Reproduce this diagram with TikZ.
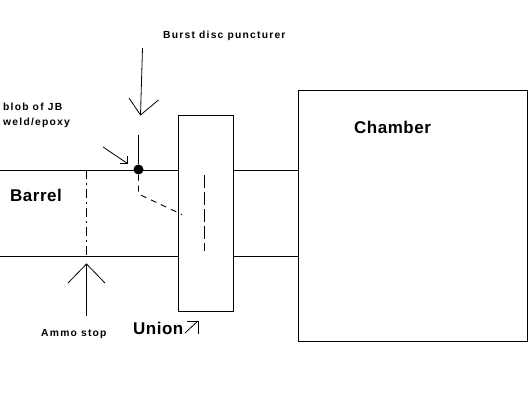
\documentclass[tikz,border=0pt]{standalone}
\usepackage{fontspec}
\setmainfont{Liberation Sans}
\newfontfamily\smallspaced[LetterSpace=12]{Liberation Sans}
\newfontfamily\bigspaced[LetterSpace=3]{Liberation Sans}
\tikzset{
  ln/.style={draw=black,line width=1pt},
  thinln/.style={draw=black,line width=0.8pt},
  dashln/.style={draw=black,line width=0.9pt,dash pattern=on 7pt off 4pt},
  biglabel/.style={inner sep=0pt,anchor=base west,font=\bigspaced\bfseries\fontsize{17}{19}\selectfont},
  smalllabel/.style={inner sep=0pt,anchor=base west,font=\smallspaced\bfseries\fontsize{10.3}{12}\selectfont},
  box/.style={ln,fill=white,inner sep=0pt,outer sep=0pt,rectangle}
}
\begin{document}
\begin{tikzpicture}[x=1pt,y=-1pt]
\useasboundingbox (0,0) rectangle (530,419);
\fill[white] (0,0) rectangle (530,419);
% tube wall ends
\coordinate (tl) at (0,170.5);
\coordinate (bl) at (0,256.5);
\node[box,minimum width=55pt,minimum height=196pt] (union) at (205.5,213.5) {};
\node[box,minimum width=229pt,minimum height=251pt] (chamber) at (412.5,216) {};
\coordinate (utl) at (union.west |- tl);
\coordinate (ubl) at (union.west |- bl);
\coordinate (utr) at (union.east |- tl);
\coordinate (ubr) at (union.east |- bl);
\coordinate (ctl) at (chamber.west |- tl);
\coordinate (cbl) at (chamber.west |- bl);
\draw[ln] (tl) -- (utl);
\draw[ln] (bl) -- (ubl);
\draw[ln] (utr) -- (ctl);
\draw[ln] (ubr) -- (cbl);
% ammo stop
\coordinate (as1) at (86.5,170.5);
\coordinate (as2) at (86.5,256.5);
\draw[dashln,dash pattern=on 9pt off 4pt on 2pt off 4pt] (as1) -- (as2);
\coordinate (asa) at (86.5,316);
\coordinate (asb) at (86.5,264);
\coordinate (ash1) at (68,283);
\coordinate (ash2) at (105,283);
\draw[thinln] (asa) -- (asb);
\draw[thinln] (ash1) -- (asb) -- (ash2);
% blob
\node[circle,fill=black,inner sep=0pt,minimum size=10pt] (blob) at (138.5,169.5) {};
\coordinate (pt) at (138.5,135);
\draw[ln] (pt) -- (blob);
\coordinate (d1) at (138.5,194);
\coordinate (d2) at (182,214.5);
\draw[dashln,dash pattern=on 6pt off 5pt] (blob) -- (d1) -- (d2);
\coordinate (u1) at (204.5,175);
\coordinate (u2) at (204.5,251);
\draw[dashln,dash pattern=on 13pt off 4pt] (u1) -- (u2);
% puncturer arrow
\coordinate (pa) at (142.5,48);
\coordinate (pb) at (140.5,115);
\coordinate (ph1) at (129,98);
\coordinate (ph2) at (158.5,100);
\draw[thinln] (pa) -- (pb);
\draw[thinln] (ph1) -- (pb) -- (ph2);
% blob arrow
\coordinate (ba) at (103,147);
\coordinate (bb) at (127.5,163.5);
\coordinate (bh1) at (120,163.5);
\coordinate (bh2) at (127.5,156);
\draw[thinln] (ba) -- (bb);
\draw[thinln] (bh1) -- (bb) -- (bh2);
% union arrow
\coordinate (ua) at (185,333);
\coordinate (ub) at (198,321);
\coordinate (uh1) at (187,321);
\coordinate (uh2) at (198,334);
\draw[thinln] (ua) -- (ub);
\draw[thinln] (uh1) -- (ub) -- (uh2);
% labels
\node[smalllabel] (lburst) at (163,38.5) {Burst disc puncturer};
\node[smalllabel] (lblob) at (3,110.5) {blob of JB};
\node[smalllabel] (lweld) at (3,125.5) {weld/epoxy};
\node[smalllabel] (lammo) at (41,336.5) {Ammo stop};
\node[biglabel] (lbarrel) at (10,201.5) {Barrel};
\node[biglabel] (lunion) at (133,334.5) {Union};
\node[biglabel] (lchamber) at (354,133.5) {Chamber};
\end{tikzpicture}
\end{document}
